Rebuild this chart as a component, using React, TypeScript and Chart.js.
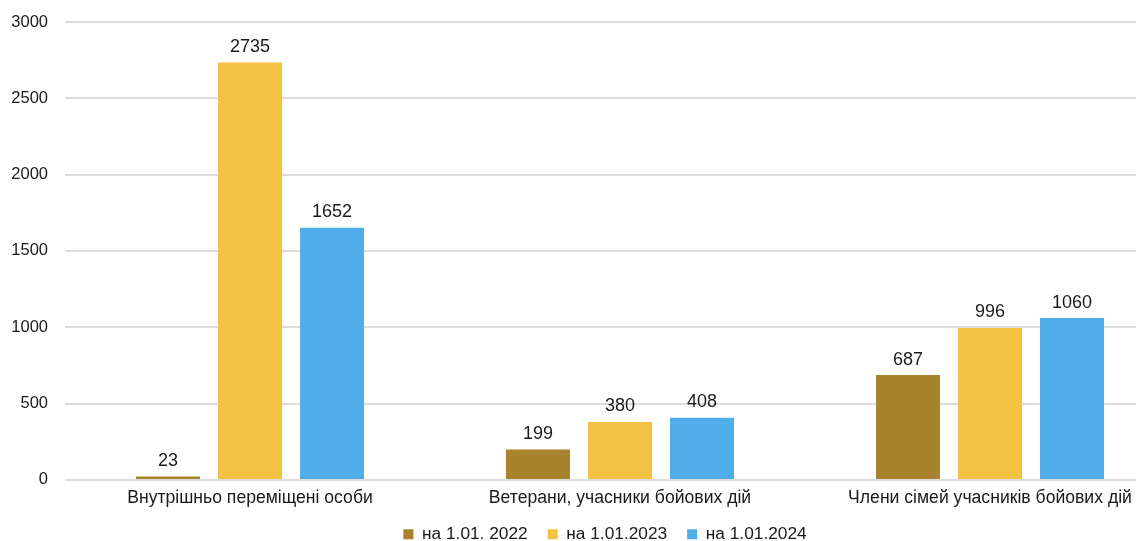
import React, { useEffect, useRef } from "react";
import { Chart, registerables } from "chart.js";

Chart.register(...registerables);

const categories = [
  "Внутрішньо переміщені особи",
  "Ветерани, учасники бойових дій",
  "Члени сімей учасників бойових дій",
];
const seriesNames = ["на 1.01. 2022", "на 1.01.2023", "на 1.01.2024"];
const values2022 = [23, 199, 687];
const values2023 = [2735, 380, 996];
const values2024 = [1652, 408, 1060];
const seriesColors = ["#A9822D", "#F4C243", "#50ADE9"];
const yTicks = [0, 500, 1000, 1500, 2000, 2500, 3000];

const FONT = "'Liberation Sans', Arial, Helvetica, sans-serif";
const W = 1180;
const H = 556;

const valueLabels = {
  id: "valueLabels",
  afterDatasetsDraw(chart: any) {
    const ctx = chart.ctx;
    ctx.save();
    ctx.font = `18px ${FONT}`;
    ctx.fillStyle = "#1a1a1a";
    ctx.textAlign = "center";
    ctx.textBaseline = "bottom";
    chart.data.datasets.forEach((ds: any, i: number) => {
      const meta = chart.getDatasetMeta(i);
      meta.data.forEach((bar: any, j: number) => {
        ctx.fillText(String(ds.data[j]), bar.x, bar.y - 6.5);
      });
    });
    ctx.restore();
  },
};

const legendShift = {
  id: "legendShift",
  afterLayout(chart: any) {
    const lg = chart.legend;
    if (lg) {
      lg.left += 35;
      lg.top -= 3;
      lg.bottom -= 3;
    }
  },
};

export default function App() {
  const ref = useRef<HTMLCanvasElement | null>(null);
  useEffect(() => {
    document.body.style.overflow = "hidden";
    const chart = new Chart(ref.current as HTMLCanvasElement, {
      type: "bar",
      data: {
        labels: categories,
        datasets: [values2022, values2023, values2024].map((d, i) => ({
          label: seriesNames[i],
          data: d,
          backgroundColor: seriesColors[i],
          categoryPercentage: 0.665,
          barPercentage: 0.78,
        })),
      },
      options: {
        responsive: false,
        animation: false,
        devicePixelRatio: 1,
        layout: { padding: { top: 22, right: W - 1175, left: 0, bottom: 0 } },
        plugins: {
          tooltip: { enabled: false },
          legend: {
            position: "bottom",
            labels: {
              boxWidth: 10,
              boxHeight: 10,
              padding: 20,
              color: "#1a1a1a",
              font: { family: FONT, size: 17.3 },
            },
          },
        },
        scales: {
          x: {
            grid: { display: false, drawTicks: false },
            border: { display: false },
            afterFit(scale: any) {
              scale.height = 28.8;
            },
            ticks: {
              color: "#1a1a1a",
              padding: 8,
              font: { family: FONT, size: 17.6 },
              maxRotation: 0,
              autoSkip: false,
            },
          },
          y: {
            min: 0,
            max: 3000,
            afterFit(scale: any) {
              scale.width = 65;
              scale.paddingTop = 0;
              scale.paddingBottom = 0;
            },
            afterBuildTicks(scale: any) {
              scale.ticks = yTicks.map((v) => ({ value: v }));
            },
            grid: { color: "#dcdcdc", lineWidth: 2, drawTicks: false },
            border: { display: false },
            ticks: {
              color: "#1a1a1a",
              padding: 17,
              font: { family: FONT, size: 16.5 },
              callback: (v: any) => String(v),
            },
          },
        },
      },
      plugins: [valueLabels, legendShift],
    });
    return () => chart.destroy();
  }, []);
  return (
    <div style={{ position: "fixed", left: 0, top: 0, width: W, height: H }}>
      <canvas ref={ref} width={W} height={H} />
    </div>
  );
}
